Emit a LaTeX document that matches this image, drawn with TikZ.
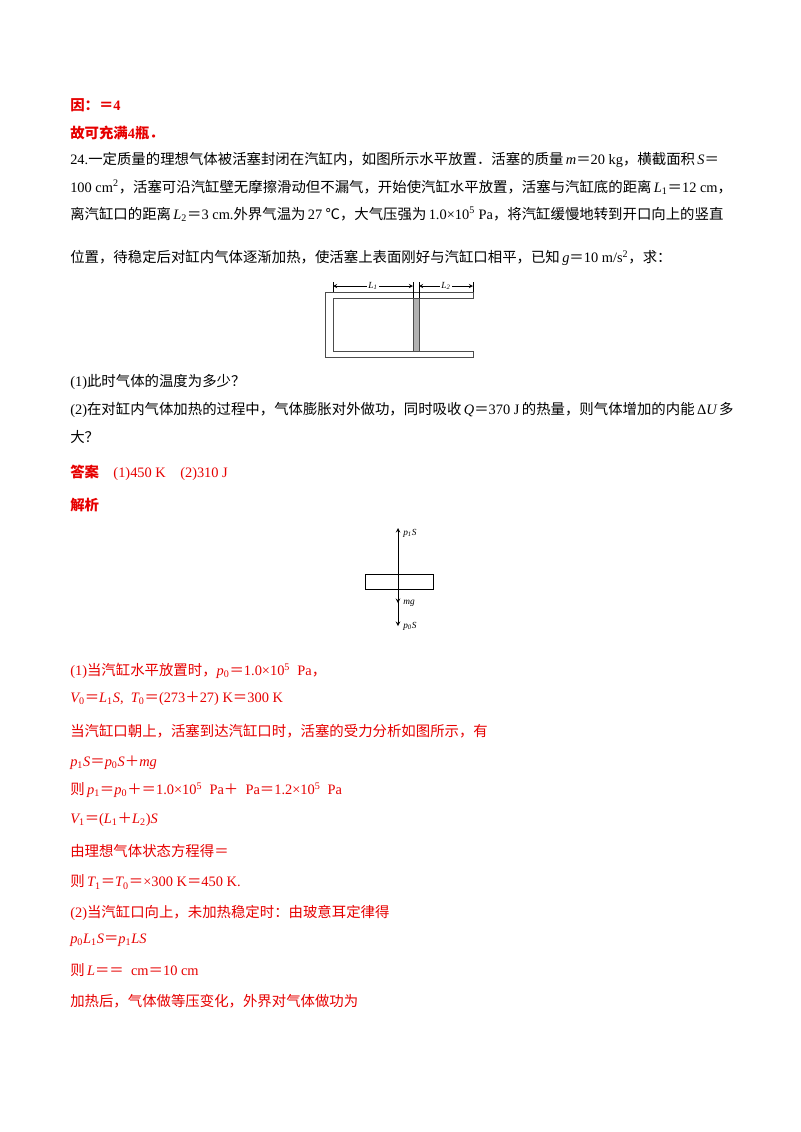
\documentclass[tikz,border=0pt]{standalone}
\usepackage{fontspec}
\setmainfont{Noto Sans CJK SC}
\newfontfamily\lat{Liberation Serif}
\newcommand{\ltn}[1]{{\lat #1}}
\newcommand{\li}[1]{{\lat\itshape #1}}
\definecolor{ans}{RGB}{230,0,0}
\begin{document}
\begin{tikzpicture}[x=0.75pt,y=-0.75pt,
  t/.style={anchor=west,inner sep=0,font=\fontsize{10.8pt}{12pt}\selectfont},
  r/.style={t,text=ans},
  rb/.style={t,text=ans,font=\fontsize{10.8pt}{12pt}\selectfont\bfseries},
  lab/.style={inner sep=1pt,fill=white,font=\fontsize{7pt}{8pt}\selectfont\lat\itshape},
  fl/.style={inner sep=0,anchor=west,font=\fontsize{7pt}{8pt}\selectfont\lat\itshape},
  wall/.style={draw=black!70,line width=0.5pt}]
\useasboundingbox (0,0) rectangle (800,1132);
\node[rb] (a1) at (70,105) {因：＝\ltn{4}};
\node[rb] (a2) at (70,133) {故可充满\ltn{4}瓶．};
\node[t] (q1) at (70,160) {\ltn{24.}一定质量的理想气体被活塞封闭在汽缸内，如图所示水平放置．活塞的质量\,\li{m}＝\ltn{20 kg}，横截面积\,\li{S}＝};
\node[t] (q2) at (70,187) {\ltn{100 cm\textsuperscript{2}}，活塞可沿汽缸壁无摩擦滑动但不漏气，开始使汽缸水平放置，活塞与汽缸底的距离\,\li{L}\ltn{\textsubscript{1}}＝\ltn{12 cm}，};
\node[t] (q3) at (70,214) {离汽缸口的距离\,\li{L}\ltn{\textsubscript{2}}＝\ltn{3 cm.}外界气温为\,\ltn{27} ℃，大气压强为\,\ltn{1.0×10\textsuperscript{5} Pa}，将汽缸缓慢地转到开口向上的竖直};
\node[t] (q4) at (70,258) {位置，待稳定后对缸内气体逐渐加热，使活塞上表面刚好与汽缸口相平，已知\,\li{g}＝\ltn{10 m/s\textsuperscript{2}}，求：};
% cylinder
\draw[wall] (473,292) -- (325,292) -- (325,357) -- (473,357) -- (473,351) -- (333,351) -- (333,298) -- (473,298) -- cycle;
\draw[wall,fill=gray!60] (413,298) rectangle (419,351);
\coordinate (e1) at (333,286); \coordinate (e2) at (413,286);
\coordinate (e3) at (419,286); \coordinate (e4) at (473,286);
\draw[line width=0.4pt] (333,282) -- (333,292) (413,282) -- (413,298) (419,282) -- (419,298) (473,282) -- (473,292);
\draw[<->,>=stealth,line width=0.4pt] (e1) -- (e2);
\draw[<->,>=stealth,line width=0.4pt] (e3) -- (e4);
\node[lab] (L1) at (373,286) {L\textsubscript{1}};
\node[lab] (L2) at (446,286) {L\textsubscript{2}};
\node[t] (q5) at (70,382) {\ltn{(1)}此时气体的温度为多少？};
\node[t] (q6) at (70,410) {\ltn{(2)}在对缸内气体加热的过程中，气体膨胀对外做功，同时吸收\,\li{Q}＝\ltn{370 J}\,的热量，则气体增加的内能\,\ltn{Δ}\li{U}\,多};
\node[t] (q7) at (70,437) {大？};
\node[rb] (an) at (70,473) {答案\quad{\mdseries\ltn{(1)450 K\quad(2)310 J}}};
\node[rb] (jx) at (70,505) {解析};
% force diagram
\draw[line width=0.5pt] (365,574) rectangle (433,589);
\coordinate (c) at (398,581);
\coordinate (top) at (398,528); \coordinate (bot) at (398,626);
\draw[->,>=stealth,line width=0.5pt] (c) -- (top);
\draw[->,>=stealth,line width=0.5pt] (c) -- (bot);
\draw[->,>=stealth,line width=0.5pt] (398,596) -- (398,603);
\node[fl] (f1) at (403,533) {p\textsubscript{1}S};
\node[fl] (f2) at (403,603) {mg};
\node[fl] (f3) at (403,626) {p\textsubscript{0}S};
% solution
\node[r] (s1) at (70,671) {\ltn{(1)}当汽缸水平放置时，\li{p}\ltn{\textsubscript{0}}＝\ltn{1.0×10\textsuperscript{5}\ \ Pa}，};
\node[r] (s2) at (70,699) {\li{V}\ltn{\textsubscript{0}}＝\li{L}\ltn{\textsubscript{1}}\li{S}\ltn{,\ \ }\li{T}\ltn{\textsubscript{0}}＝\ltn{(273}＋\ltn{27) K}＝\ltn{300 K}};
\node[r] (s3) at (70,731) {当汽缸口朝上，活塞到达汽缸口时，活塞的受力分析如图所示，有};
\node[r] (s4) at (70,763) {\li{p}\ltn{\textsubscript{1}}\li{S}＝\li{p}\ltn{\textsubscript{0}}\li{S}＋\li{mg}};
\node[r] (s5) at (70,790) {则\,\li{p}\ltn{\textsubscript{1}}＝\li{p}\ltn{\textsubscript{0}}＋＝\ltn{1.0×10\textsuperscript{5}\ \ Pa}＋\ltn{\ \ Pa}＝\ltn{1.2×10\textsuperscript{5}\ \ Pa}};
\node[r] (s6) at (70,820) {\li{V}\ltn{\textsubscript{1}}＝\ltn{(}\li{L}\ltn{\textsubscript{1}}＋\li{L}\ltn{\textsubscript{2})}\li{S}};
\node[r] (s7) at (70,851) {由理想气体状态方程得＝};
\node[r] (s8) at (70,882) {则\,\li{T}\ltn{\textsubscript{1}}＝\li{T}\ltn{\textsubscript{0}}＝\ltn{×300 K}＝\ltn{450 K.}};
\node[r] (s9) at (70,913) {\ltn{(2)}当汽缸口向上，未加热稳定时：由玻意耳定律得};
\node[r] (s10) at (70,940) {\li{p}\ltn{\textsubscript{0}}\li{L}\ltn{\textsubscript{1}}\li{S}＝\li{p}\ltn{\textsubscript{1}}\li{LS}};
\node[r] (s11) at (70,970) {则\,\li{L}＝＝\ltn{\ \ cm}＝\ltn{10 cm}};
\node[r] (s12) at (70,1001) {加热后，气体做等压变化，外界对气体做功为};
\end{tikzpicture}
\end{document}
